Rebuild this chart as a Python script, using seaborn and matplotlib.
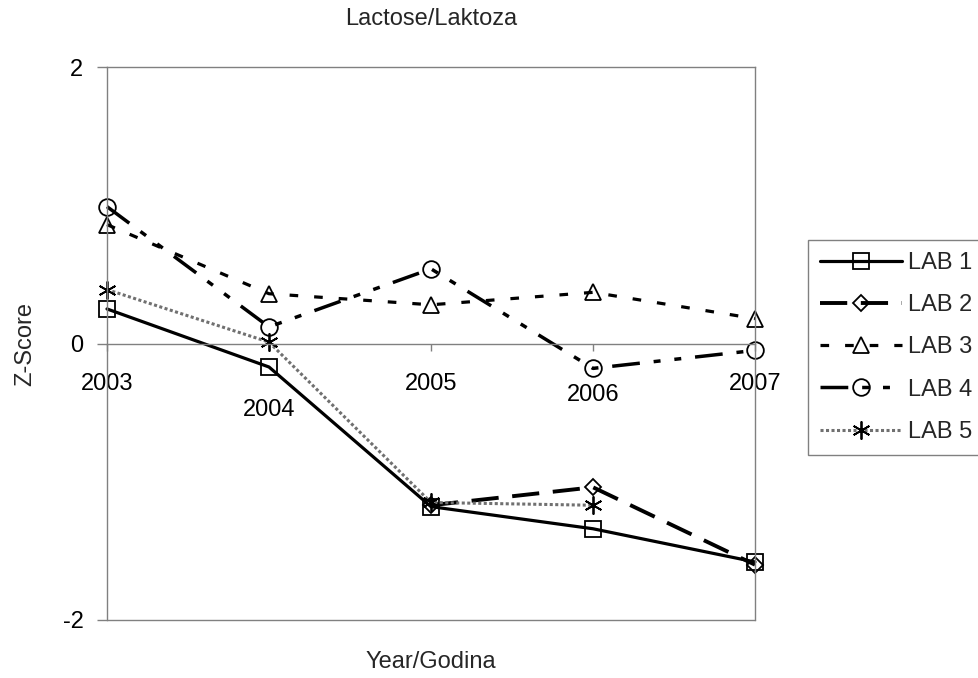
import numpy as np
import matplotlib
matplotlib.use("Agg")
import matplotlib.pyplot as plt
import seaborn as sns

# ---- data ----
years = [2003, 2004, 2005, 2006, 2007]
year_labels = ["2003", "2004", "2005", "2006", "2007"]
ytick_values = [-2, 0, 2]
ytick_labels = ["-2", "0", "2"]
series_names = ["LAB 1", "LAB 2", "LAB 3", "LAB 4", "LAB 5"]
lab1 = [0.25, -0.17, -1.18, -1.34, -1.58]
lab2 = [np.nan, np.nan, -1.17, -1.04, -1.60]
lab3 = [0.86, 0.36, 0.28, 0.37, 0.18]
lab4 = [0.99, 0.12, 0.54, -0.18, -0.05]
lab5 = [0.39, 0.01, -1.15, -1.17, np.nan]
series_values = [lab1, lab2, lab3, lab4, lab5]

# ---- styling ----
sns.set_style("white")
plt.rcParams["font.family"] = ["Liberation Sans", "DejaVu Sans"]
plt.rcParams["axes.unicode_minus"] = False

GRAY = "#808080"
styles = {
    "LAB 1": dict(color="black", linestyle="-", lw=2.3, marker="s", ms=11.5),
    "LAB 2": dict(color="black", linestyle=(0, (7, 3.5)), lw=2.8, marker="D", ms=8.5),
    "LAB 3": dict(color="black", linestyle=(0, (2.7, 5)), lw=2.3, marker="^", ms=12),
    "LAB 4": dict(color="black", linestyle=(0, (8, 4, 2, 4, 2, 4)), lw=2.5, marker="o", ms=12),
    "LAB 5": dict(color="#707070", linestyle=(0, (1, 0.8)), lw=2.2, marker=(6, 2, 0), ms=13),
}

fig = plt.figure(figsize=(9.79, 6.78), dpi=100)
ax = fig.add_axes([107 / 979, 1 - 620 / 678, 648 / 979, 553 / 678])

for name, vals in zip(series_names, series_values):
    st = styles[name]
    sns.lineplot(
        x=years, y=vals, ax=ax, label=name,
        color=st["color"], linestyle=st["linestyle"], lw=st["lw"],
        marker=st["marker"], ms=st["ms"], mfc="none", mec="black", mew=1.3,
        clip_on=False,
    )

ax.set_xlim(2003, 2007)
ax.set_ylim(-2, 2)

# frame
for s in ax.spines.values():
    s.set_color(GRAY)
    s.set_linewidth(1)
    s.set_visible(True)
ax.spines["bottom"].set_position(("data", 0))
ax.axhline(-2, color=GRAY, lw=1, clip_on=False, zorder=0.5)

# ticks
ax.set_xticks(years)
ax.set_xticklabels(year_labels)
ax.set_yticks(ytick_values)
ax.set_yticklabels(ytick_labels)
ax.tick_params(axis="x", bottom=True, direction="out", length=5, width=1,
               color=GRAY, labelsize=17, labelcolor="black")
ax.tick_params(axis="y", left=True, direction="out", length=7, width=1,
               color=GRAY, labelsize=17, labelcolor="black", pad=10)
pads = [16, 35, 16, 24, 16]
for t, p in zip(ax.xaxis.get_major_ticks(), pads):
    t.set_pad(p)

# labels
ax.set_title("Lactose/Laktoza", fontsize=17, pad=30)
ax.set_xlabel("Year/Godina", fontsize=17)
ax.xaxis.set_label_coords(0.5, -0.056)
ax.set_ylabel("Z-Score", fontsize=17)
ax.yaxis.set_label_coords(-0.109, 0.5)

leg = ax.legend(
    loc="upper left", bbox_to_anchor=(808 / 979, 1 - 240 / 678),
    bbox_transform=fig.transFigure, frameon=True, fancybox=False,
    edgecolor=GRAY, fontsize=17, handlelength=3.5, handletextpad=0.25,
    labelspacing=0.86, borderpad=0.5, borderaxespad=0, numpoints=1,
)
leg.get_frame().set_linewidth(1)
leg.get_frame().set_alpha(None)

fig.savefig("out.png", dpi=100)
